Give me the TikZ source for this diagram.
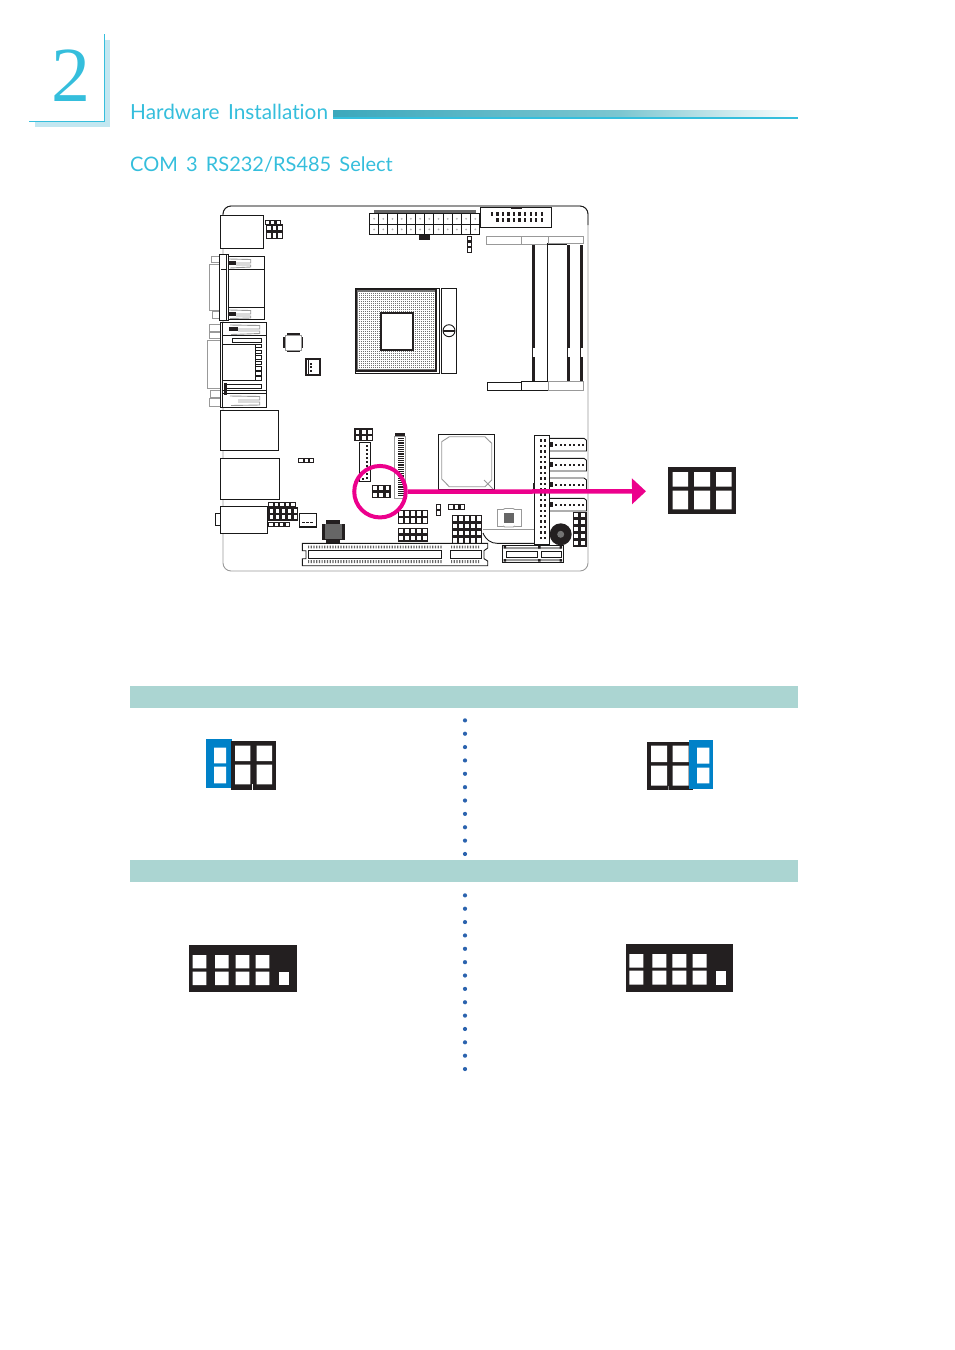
\documentclass[tikz,border=0pt]{standalone}
\usepackage{fontspec}
\setmainfont{Lato}[Ligatures=NoCommon,WordSpace=1.6]
\newfontfamily\numfont{Liberation Serif}
\usetikzlibrary{arrows.meta}
\definecolor{capcyan}{HTML}{35BEDC}
\definecolor{capshade}{HTML}{C2E7F1}
\definecolor{barteal}{HTML}{3CA8BC}
\definecolor{barmid}{HTML}{7CC6D0}
\definecolor{headband}{HTML}{ABD5D2}
\definecolor{jumppink}{HTML}{EC008C}
\definecolor{capblue}{HTML}{0081C8}
\definecolor{dotblue}{HTML}{2B63AE}
\definecolor{pindark}{HTML}{231F20}
\newcommand{\pinblock}[6]{%
  \fill[pindark] (#1,#2) rectangle (#3,#4);
  \pgfmathsetmacro\cellw{(#3-#1)/#5}
  \pgfmathsetmacro\cellh{(#4-#2)/#6}
  \foreach \cx in {1,...,#5}
    \foreach \cy in {1,...,#6}
      \fill[white] ({#1+(\cx-0.8)*\cellw},{#2+(\cy-0.8)*\cellh})
        rectangle ({#1+(\cx-0.2)*\cellw},{#2+(\cy-0.2)*\cellh});
}
\newcommand{\sataconn}[1]{%
  \draw[board line] (550,#1) -- (584,#1) -- (586.5,{#1+2}) -- (586.5,{#1+12.7}) -- (550,{#1+12.7});
  \fill[pindark] (550,{#1+4}) rectangle (553,{#1+9});
  \foreach \px in {555,559.5,...,582}
    \fill[pindark] (\px,{#1+6}) rectangle ({\px+2},{#1+7.5});
}
\begin{document}
\begin{tikzpicture}[x=1pt,y=-1pt,
  board line/.style={draw=black!90,line width=0.9pt},
  faint line/.style={draw=black!40,line width=0.9pt},
  chapter text/.style={anchor=base west,inner sep=0pt,text=capcyan},
  jump hole/.style={fill=white}]
  \useasboundingbox (0,0) rectangle (954,1350);

  % chapter mark
  \fill[capshade] (35,121.7) rectangle (110,126.7);
  \fill[capshade] (105,40) rectangle (110,126.7);
  \draw[capcyan,line width=0.9pt] (104.3,34) -- (104.3,121.7) -- (29,121.7);
  \node[anchor=base,inner sep=0pt,text=capcyan,font=\numfont\fontsize{78}{78}\selectfont] (chapter num) at (70.5,101) {2};
  \node[chapter text,font=\fontsize{20.8}{21}\selectfont] (chapter title) at (130,119) {Hardware Installation};
  \node[chapter text,font=\fontsize{20}{21}\selectfont] (section title) at (130,171) {COM 3 RS232/RS485 Select};
  \shade[left color=barteal,right color=barmid] (333,110) rectangle (620,116);
  \shade[left color=barmid,right color=white] (620,110) rectangle (798,116);
  \fill[capcyan] (333,116.7) rectangle (798,118.7);

  % board
  \draw[faint line,rounded corners=8pt] (223,206) rectangle (588,571);
  \draw[board line,rounded corners=8pt] (223,240) -- (223,206) -- (588,206) -- (588,225);

  % left side connectors
  \draw[board line,fill=white] (220.3,215.3) rectangle (263.3,248.3);
  \pinblock{266}{224}{283}{239}{3}{2}
  \pinblock{264.5}{220}{281}{225}{3}{1}

  \draw[faint line,fill=white] (209.3,264) rectangle (219.3,310.7);
  \draw[faint line,fill=white] (211,256) rectangle (219.3,262.7);
  \draw[faint line,fill=white] (212.3,311.7) rectangle (219.3,318.7);
  \draw[board line,fill=white] (228.3,256) rectangle (264.3,319.3);
  \draw[board line] (228.3,269.3) -- (264.3,269.3) (228.3,307.3) -- (264.3,307.3);
  \draw[board line,fill=white] (219.3,254) rectangle (228.3,320.7);
  \draw[board line] (226.5,254) -- (226.5,320.7) (221,269) -- (226.5,269);
  \fill[pindark] (228.3,261) rectangle (236,265);
  \fill[pindark] (228.3,312) rectangle (236,316);
  \draw[faint line] (229,259) -- (250.7,259.5) -- (250.7,263) -- (236,263) (236,265) -- (250.7,265) -- (250.7,267) -- (230,268);
  \draw[faint line] (229,310) -- (250.7,310.5) -- (250.7,314) -- (236,314) (236,316) -- (250.7,316) -- (250.7,318) -- (230,318.5);

  \draw[faint line,fill=white] (207.3,340) rectangle (220.7,388);
  \draw[faint line,fill=white] (209,324) rectangle (220.7,331.3);
  \draw[faint line,fill=white] (209,332) rectangle (220.7,338);
  \draw[faint line,fill=white] (210.7,390) rectangle (220.7,397.3);
  \draw[faint line,fill=white] (209,398) rectangle (220.7,406);
  \draw[board line,fill=white] (220.5,322) rectangle (266.7,407.5);
  \draw[board line] (222.5,322) -- (222.5,407.5) (222.5,335.3) -- (266.7,335.3)
    (222,390.7) -- (266.7,390.7) (222,393) -- (266.7,393);
  \fill[pindark] (229,327) rectangle (238,331);
  \draw[faint line] (230,325) -- (259.7,325.5) -- (259.7,329) -- (238,329) (238,331) -- (259.7,331) -- (259.7,333.5) -- (231,334.5);
  \draw[faint line] (230,396) -- (259.7,396.5) -- (259.7,400) -- (238,400) (238,402) -- (259.7,402) -- (259.7,405) -- (231,405.5);
  \draw[board line] (232,338.5) rectangle (261.5,342);
  \draw[board line] (226,388) -- (261.5,388) -- (261.5,384.5) -- (226,384.5);
  \fill[pindark] (223.5,383) rectangle (226.5,395);
  \draw[board line,fill=white] (222,344.3) rectangle (255.3,380);
  \foreach \fy in {344,350,355.5,361,366.5,371.5,376.5}
    \draw[board line,fill=white] (255.3,\fy) rectangle (261.5,{\fy+3.5});
  \draw[board line,fill=white] (220.3,410.3) rectangle (278.7,450.3);
  \draw[board line,fill=white] (220.3,458.3) rectangle (279.7,499.3);
  \draw[board line,fill=white] (215.3,513.3) rectangle (220.3,525.3);
  \draw[board line,fill=white] (220.3,506.3) rectangle (267.7,533.3);
  \pinblock{268.3}{501.7}{295.7}{507.3}{5}{1}
  \pinblock{268.3}{507.3}{298.3}{520.7}{5}{2}
  \pinblock{268.3}{521.7}{290}{527.3}{4}{1}
  \draw[board line,line width=1.2pt,fill=white] (299.5,513.5) rectangle (316.5,527);
  \foreach \px in {302,306,310}
    \fill[pindark] (\px,521.5) rectangle ({\px+2.5},523);
  \pinblock{298.3}{458.3}{314.3}{463.3}{3}{1}

  % small parts by the socket
  \fill[pindark] (283.3,337) rectangle (302.7,348);
  \fill[pindark] (287,333.3) rectangle (300,351.7);
  \draw[faint line,fill=white] (285,335) rectangle (301,350);
  \draw[pindark,line width=1.8pt,fill=white] (306.2,359.2) rectangle (319.8,374.8);
  \draw[pindark,line width=0.6pt] (308.5,359) -- (308.5,375);
  \foreach \py in {362.5,366,370}
    \fill[pindark] (309.5,\py) rectangle (311.5,{\py+2});

  % 24 pin power
  \fill[black!60] (374,210) rectangle (476,213.3);
  \foreach \cx in {0,...,11}
    \foreach \cy in {0,1} {
      \draw[board line,fill=white] ({369.5+\cx*9.2},{213.5+\cy*10.6}) rectangle ({369.5+(\cx+1)*9.2},{213.5+(\cy+1)*10.6});
      \fill[black!30] ({369.5+(\cx+0.5)*9.2},{213.5+(\cy+0.5)*10.6}) circle[radius=1];
    }
  \fill[pindark] (419,234.7) rectangle (430,240);
  \draw[board line,fill=white] (480,207.3) rectangle (551.3,227.3);
  \fill[pindark] (511,207.3) rectangle (521.5,208.8);
  \foreach \cx in {0,...,9}
    \fill[pindark] ({490.7+\cx*5.55},212.3) rectangle ({493+\cx*5.55},215.7);
  \foreach \cx in {1,...,9}
    \fill[pindark] ({490.7+\cx*5.55},218.3) rectangle ({493+\cx*5.55},221.7);
  \pinblock{467.3}{236}{472.3}{252.7}{1}{3}

  % CPU socket
  \fill[black!55] (356,289.5) rectangle (436,370.5);
  \foreach \gx in {0,...,38}
    \draw[white,line width=1pt] ({358+\gx*2},292) -- ({358+\gx*2},368);
  \foreach \gy in {0,...,38}
    \draw[white,line width=1pt] (358,{292+\gy*2}) -- (436,{292+\gy*2});
  \draw[pindark,line width=1.8pt] (356.3,289.3) rectangle (435.7,370.7);
  \draw[board line] (355,288.3) rectangle (439.3,373);
  \draw[pindark,line width=2pt,fill=white] (381,312.7) rectangle (413,349.7);
  \draw[board line,fill=white] (441.7,288.7) rectangle (456.7,373.3);
  \draw[board line,fill=white] (449,330.7) circle[radius=6];
  \fill[pindark] (443,329.8) rectangle (455,331.8);

  % memory slots
  \draw[faint line,fill=white] (486.7,236) rectangle (521.3,244.3);
  \draw[faint line,fill=white] (521.3,236) rectangle (548.3,244.3);
  \draw[faint line,fill=white] (548.3,236) rectangle (583.3,243.3);
  \foreach \bx in {532,567,580.3} {
    \fill[pindark] (\bx,244.5) rectangle ({\bx+2.7},348.3);
    \fill[pindark] (\bx,356.7) rectangle ({\bx+2.7},381.7);
    \draw[pindark,line width=0.7pt] ({\bx+0.4},348) -- ({\bx+0.4},357);
  }
  \draw[board line] (547,243) -- (547,381.7) -- (569,381.7) (547,244.3) -- (567,244.3);
  \draw[board line,fill=white] (487.3,382.3) rectangle (521.3,390.7);
  \draw[board line,fill=white] (521.3,381.7) rectangle (548.3,390.7);
  \draw[faint line,fill=white] (548.3,381.7) rectangle (583.3,390.7);

  % chipset
  \draw[board line,fill=white] (438.3,434.3) rectangle (494.3,489.3);
  \draw[faint line] (441.7,441.7) -- (449.3,436.7) -- (485,436.7) -- (491.7,443.3) -- (491.7,480)
    -- (485,486.7) -- (449.3,486.7) -- (441.7,479) -- cycle;
  \draw[faint line] (484,480) -- (493,489);

  % mid board parts
  \pinblock{354.3}{428.3}{373.3}{441.3}{3}{2}
  \draw[board line,fill=white] (359.8,442.3) rectangle (370.5,481.7);
  \foreach \py in {445,449,...,478}
    \fill[pindark] (366,\py) rectangle (368,{\py+2});
  \fill[pindark] (362,477.5) rectangle (364,479.5);
  \fill[pindark] (395,433.3) rectangle (405,436);
  \draw[faint line,fill=white] (394.9,436) rectangle (405,498.3);
  \foreach \py in {438,440.2,...,496}
    \fill[pindark] (397.5,\py) rectangle (403.5,{\py+1.1});
  \pinblock{371.7}{485}{390.7}{498.3}{3}{2}

  \pinblock{398.3}{510}{427.7}{524}{5}{2}
  \pinblock{398.3}{527.7}{427.7}{541.7}{5}{2}
  \pinblock{451.7}{515}{482.3}{529.3}{5}{2}
  \pinblock{451.7}{529.3}{482.3}{544}{5}{2}
  \pinblock{436}{504}{441}{515.7}{1}{2}
  \pinblock{448.3}{504.3}{465}{510}{3}{1}

  \fill[pindark] (321.7,524) rectangle (345,540);
  \fill[pindark] (326,520) rectangle (340,543.3);
  \fill[black!60] (325,523.5) rectangle (341.5,539);

  \draw[faint line] (497,509.5) -- (521,509.5) -- (521,526) -- (497,526) -- cycle;
  \fill[white] (503,508) rectangle (515,528);
  \draw[faint line] (503,509.5) -- (505,508.5) -- (513,508.5) -- (515,509.5) (503,526) -- (505,527) -- (513,527) -- (515,526);
  \fill[black!60] (504.3,512.7) rectangle (514.3,522.7);
  \draw[board line] (483,533) .. controls (486,540) and (491,543.3) .. (497,543.3) -- (534,543.3);
  \draw[faint line,line width=0.5pt] (482.5,529.3) -- (534,529.3);

  \draw[board line,fill=white] (534.3,435.3) rectangle (549.7,544);
  \foreach \py in {0,...,18} {
    \fill[pindark] (539.8,{439.3+\py*5.4}) rectangle (542.2,{441.8+\py*5.4});
    \fill[pindark] (543.6,{439.3+\py*5.4}) rectangle (546,{441.8+\py*5.4});
  }
  \fill[pindark] (533,483) rectangle (534.5,490);
  \sataconn{438.3}
  \sataconn{458.3}
  \sataconn{478}
  \sataconn{498.3}
  \pinblock{572.7}{511.7}{586.7}{546.7}{2}{5}
  \fill[pindark] (560.7,534.3) circle[radius=11];
  \fill[black!55] (560.7,534.3) circle[radius=3.5];

  % slots at the bottom
  \draw[board line,fill=white] (302.3,543.3) -- (487.7,543.3) -- (487.7,548) -- (484,550.7) -- (484,558.7)
    -- (487.7,561) -- (487.7,565.7) -- (302.3,565.7) -- (302.3,558.7) -- (306,558.7) -- (306,550.7) -- (302.3,550.7) -- cycle;
  \draw[board line] (308,550.7) rectangle (441.7,558.7);
  \draw[board line] (450,550.7) rectangle (481.7,558.7);
  \foreach \px in {308,310.7,...,441}
    \fill[black!60] (\px,545.7) rectangle ({\px+1.2},548.3) (\px,560) rectangle ({\px+1.2},563);
  \foreach \px in {451,453.7,...,480}
    \fill[black!60] (\px,545.7) rectangle ({\px+1.2},548.3) (\px,560) rectangle ({\px+1.2},563);

  \draw[board line,fill=white] (502.7,545) rectangle (563.3,562.3);
  \draw[board line] (506,551.3) rectangle (537.7,557.7);
  \draw[board line] (541.3,551.3) rectangle (561,557.7);
  \fill[black!40] (506,547) rectangle (561,549) (506,559.2) rectangle (561,561);
  \foreach \px in {503.5,538,559.5}
    \fill[pindark] (\px,546) rectangle ({\px+2.5},548.5) (\px,559) rectangle ({\px+2.5},561.5);

  % jumper call out
  \node[circle,draw=jumppink,line width=4pt,minimum size=51.5pt,inner sep=0pt] (jumper ring) at (380,491.7) {};
  \coordinate (arrow end) at (646,491.3);
  \draw[draw=jumppink,line width=4.5pt,-{Triangle[length=14pt,width=25pt,fill=jumppink]}] (jumper ring.east) -- (arrow end);
  \fill[pindark] (667.7,466.7) rectangle (736,514.3);
  \fill[jump hole] (672.7,472) rectangle (688,486.7) (694,472) rectangle (710,486.7) (716,472) rectangle (731.7,486.7)
    (672.7,490.7) rectangle (688,509.3) (694,490.7) rectangle (710,509.3) (716,490.7) rectangle (731.7,509.3);

  % table of settings
  \fill[headband] (130,686) rectangle (798,708);
  \fill[headband] (130,860) rectangle (798,882);
  \foreach \dy in {1,...,11}
    \fill[dotblue] (465,{707+\dy*13.36}) circle[radius=2.1];
  \foreach \dy in {1,...,14}
    \fill[dotblue] (465,{882+\dy*13.36}) circle[radius=2.1];

  \fill[capblue] (206,739) rectangle (232,788);
  \fill[jump hole] (214,747.7) rectangle (226,763.3) (214,766.7) rectangle (226,783.3);
  \fill[pindark] (231,741) rectangle (276,790);
  \fill[jump hole] (235,745.7) rectangle (250.3,761) (256.7,745.7) rectangle (272,761)
    (235,764.7) rectangle (250.3,784.3) (256.7,764.7) rectangle (272,784.3);
  \fill[jump hole] (252,784.3) rectangle (252.9,790);

  \fill[pindark] (646.7,742) rectangle (692.7,790);
  \fill[jump hole] (651,745.7) rectangle (667,762) (672.7,745.7) rectangle (688.7,762)
    (651,765.7) rectangle (667,785.7) (672.7,765.7) rectangle (688.7,785.7);
  \fill[black!50] (668,785.7) rectangle (668.8,790);
  \fill[capblue] (688.7,740) rectangle (713,788.7);
  \fill[jump hole] (697,747.7) rectangle (709.3,763.7) (697,767.7) rectangle (709.3,783.3);

  \fill[pindark] (189,945) rectangle (296.7,991.7);
  \foreach \hx in {192.7,215,235.7,255.7}
    \fill[jump hole] (\hx,955) rectangle ({\hx+13.6},968.3) (\hx,971.7) rectangle ({\hx+13.6},985);
  \fill[jump hole] (279.3,971.7) rectangle (289.3,985);

  \fill[pindark] (625.7,944) rectangle (733.3,991.7);
  \foreach \hx in {629.3,652.3,672.3,692.7}
    \fill[jump hole] (\hx,954) rectangle ({\hx+14},967.7) (\hx,970.7) rectangle ({\hx+14},984.7);
  \fill[jump hole] (716,970.7) rectangle (726,984.7);
\end{tikzpicture}
\end{document}
